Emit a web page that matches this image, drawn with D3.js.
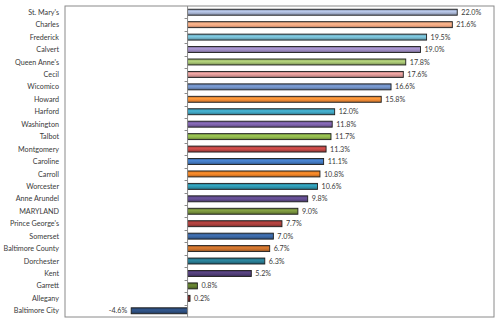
<!DOCTYPE html>
<html>
<head>
<meta charset="utf-8">
<script src="https://cdn.jsdelivr.net/npm/d3@7"></script>
<style>
  html, body { margin: 0; padding: 0; background: #fff; }
  svg { display: block; }
  text { font-family: Lato, "Open Sans", "Liberation Sans", sans-serif; fill: #3a3a3a; }
</style>
</head>
<body>
<svg id="chart" width="500" height="324"></svg>
<script>
// Population change by jurisdiction, percent
const counties = ["St. Mary's", "Charles", "Frederick", "Calvert", "Queen Anne's", "Cecil",
  "Wicomico", "Howard", "Harford", "Washington", "Talbot", "Montgomery", "Caroline",
  "Carroll", "Worcester", "Anne Arundel", "MARYLAND", "Prince George's", "Somerset",
  "Baltimore County", "Dorchester", "Kent", "Garrett", "Allegany", "Baltimore City"];
const changePct = [22.0, 21.6, 19.5, 19.0, 17.8, 17.6, 16.6, 15.8, 12.0, 11.8, 11.7, 11.3,
  11.1, 10.8, 10.6, 9.8, 9.0, 7.7, 7.0, 6.7, 6.3, 5.2, 0.8, 0.2, -4.6];
const barColors = ["#a5b2d0", "#eea47f", "#73b6cb", "#9a88bd", "#a2bf70", "#d79593",
  "#6f8dc0", "#ef8a36", "#3fa1bd", "#7a5fa6", "#8cb24b", "#bd4644", "#4277bd",
  "#e87f27", "#2e93ab", "#5f4a8b", "#76903d", "#a63e3b", "#3a65a0", "#c46e2c",
  "#28798f", "#4f3d75", "#5f7a2e", "#7a2c2a", "#2d4e7e"];
const xDomain = [-10, 25];

const rows = counties.map((name, i) => ({ name, value: changePct[i], color: barColors[i] }));

const svg = d3.select("#chart");
const plot = { left: 65, top: 6, right: 494, bottom: 317 };

const x = d3.scaleLinear().domain(xDomain).range([plot.left, plot.right]);
const y = d3.scaleBand().domain(counties).range([plot.top, plot.bottom])
  .paddingInner(0.52).paddingOuter(0.26);

// shaded gradient per bar colour
const defs = svg.append("defs");
rows.forEach((d, i) => {
  const c = d3.color(d.color);
  const g = defs.append("linearGradient").attr("id", "g" + i)
    .attr("x1", 0).attr("y1", 0).attr("x2", 0).attr("y2", 1);
  g.append("stop").attr("offset", "0%").attr("stop-color", c.darker(0.6));
  g.append("stop").attr("offset", "35%").attr("stop-color", c.brighter(0.35));
  g.append("stop").attr("offset", "65%").attr("stop-color", c);
  g.append("stop").attr("offset", "100%").attr("stop-color", c.darker(0.9));
});

// plot frame
svg.append("rect")
  .attr("x", plot.left).attr("y", plot.top)
  .attr("width", plot.right - plot.left).attr("height", plot.bottom - plot.top)
  .attr("fill", "#fff").attr("stroke", "#8a8a8a").attr("stroke-width", 1);

// bars
svg.append("g").selectAll("rect").data(rows).join("rect")
  .attr("x", d => x(Math.min(0, d.value)))
  .attr("y", d => y(d.name))
  .attr("width", d => Math.abs(x(d.value) - x(0)))
  .attr("height", y.bandwidth())
  .attr("fill", (d, i) => `url(#g${i})`)
  .attr("stroke", "#1e1e1e").attr("stroke-width", 0.9);

// zero axis with category ticks
const x0 = x(0);
svg.append("line").attr("x1", x0).attr("x2", x0)
  .attr("y1", plot.top).attr("y2", plot.bottom)
  .attr("stroke", "#8a8a8a").attr("stroke-width", 1);
const step = y.step();
const tickYs = d3.range(1, counties.length).map(k => plot.top + k * step);
svg.append("g").selectAll("line").data(tickYs).join("line")
  .attr("x1", x0 - 3).attr("x2", x0)
  .attr("y1", d => Math.round(d) + 0.5).attr("y2", d => Math.round(d) + 0.5)
  .attr("stroke", "#8a8a8a").attr("stroke-width", 1);

// category labels
svg.append("g").selectAll("text").data(rows).join("text")
  .attr("x", plot.left - 6)
  .attr("y", d => y(d.name) + y.bandwidth() / 2)
  .attr("dy", "0.36em")
  .attr("text-anchor", "end")
  .attr("font-size", 7.2)
  .text(d => d.name);

// value labels
svg.append("g").selectAll("text").data(rows).join("text")
  .attr("x", d => d.value >= 0 ? x(d.value) + 4 : x(d.value) - 4)
  .attr("y", d => y(d.name) + y.bandwidth() / 2)
  .attr("dy", "0.36em")
  .attr("text-anchor", d => d.value >= 0 ? "start" : "end")
  .attr("font-size", 7.2)
  .text(d => d.value.toFixed(1) + "%");
</script>
</body>
</html>
